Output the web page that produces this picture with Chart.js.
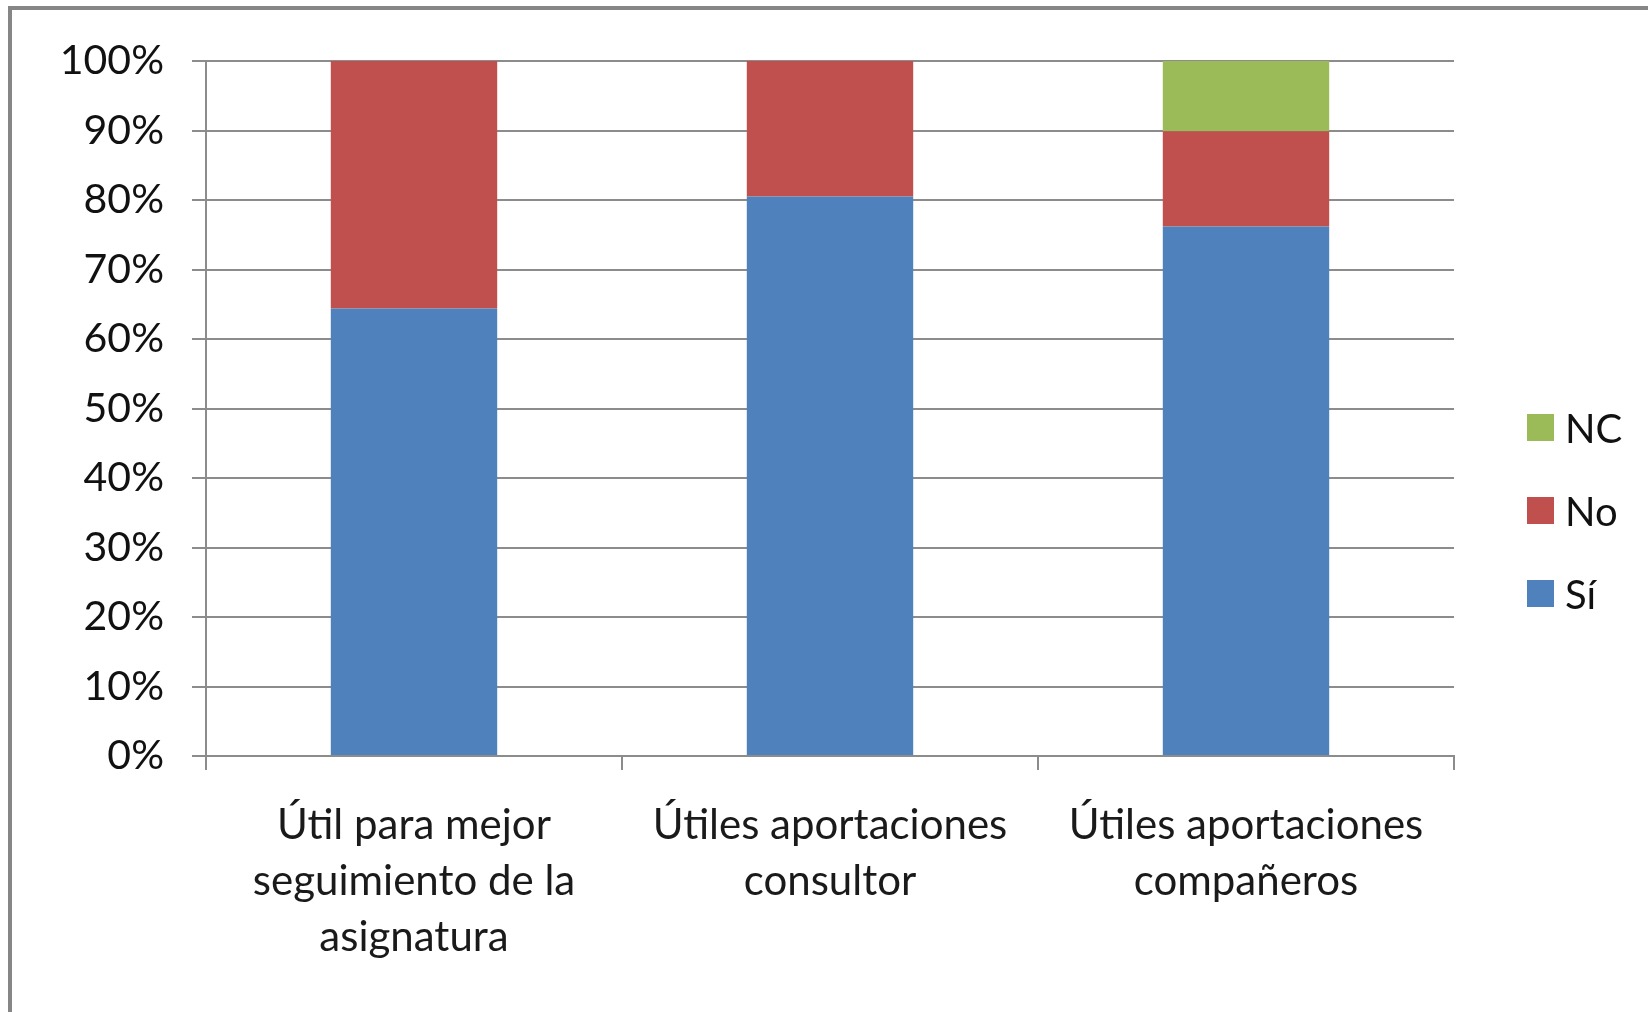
<!DOCTYPE html>
<html>
<head>
<meta charset="utf-8">
<script src="https://cdn.jsdelivr.net/npm/chart.js@4/dist/chart.umd.min.js"></script>
<style>
  body { margin: 0; background: #fff; overflow: hidden; }
  #wrap { position: absolute; left: 0; top: 0; width: 1648px; height: 1012px; }
  #frame { position: absolute; left: 8px; top: 6px; width: 1700px; height: 1100px;
           border-left: 4px solid #868686; border-top: 4px solid #868686; }
  #legend { position: absolute; left: 1527px; top: 386px; font-family: Lato, sans-serif;
            font-size: 40px; color: #111; }
  .item { display: flex; align-items: center; height: 83px; }
  .box { width: 27px; height: 27px; margin-right: 11px; }
</style>
</head>
<body>
<div id="wrap">
  <div id="frame"></div>
  <canvas id="chart" width="1648" height="1012"></canvas>
  <div id="legend"></div>
</div>
<script>
const categories = [
  ['Útil para mejor', 'seguimiento de la', 'asignatura'],
  ['Útiles aportaciones', 'consultor'],
  ['Útiles aportaciones', 'compañeros']
];
const siValues = [64.4, 80.5, 76.2];
const noValues = [35.6, 19.5, 13.7];
const ncValues = [0, 0, 10.1];
const yTicks = [0, 10, 20, 30, 40, 50, 60, 70, 80, 90, 100];

const gridColor = '#8c8c8c';

const datasets = [
  { label: 'Sí', data: siValues, backgroundColor: '#4F81BD' },
  { label: 'No', data: noValues, backgroundColor: '#C0504D' },
  { label: 'NC', data: ncValues, backgroundColor: '#9BBB59' }
];

const ctx = document.getElementById('chart').getContext('2d');
const chart = new Chart(ctx, {
  type: 'bar',
  data: {
    labels: categories,
    datasets: datasets.map(d => ({ ...d, barPercentage: 0.4, categoryPercentage: 1, borderWidth: 0 }))
  },
  options: {
    responsive: false,
    animation: false,
    layout: { padding: { top: 61, right: 194, bottom: 0, left: 0 } },
    plugins: { legend: { display: false }, tooltip: { enabled: false } },
    scales: {
      x: {
        stacked: true,
        grid: { offset: true, drawOnChartArea: false, drawTicks: true, tickLength: 14, color: gridColor, lineWidth: 2 },
        border: { color: gridColor, width: 2 },
        ticks: { color: '#1a1a1a', font: { family: 'Lato, sans-serif', size: 42, lineHeight: 1.34 }, padding: 27, maxRotation: 0 },
        afterFit: s => { s.height = 256; }
      },
      y: {
        stacked: true,
        min: 0,
        max: 100,
        afterBuildTicks: s => { s.ticks = yTicks.map(v => ({ value: v })); },
        grid: { color: gridColor, lineWidth: 2, tickLength: 14 },
        border: { color: gridColor, width: 2 },
        ticks: { color: '#111', font: { family: 'Lato, sans-serif', size: 41 }, padding: 28, callback: v => v + '%' },
        afterFit: s => { s.width = 206; }
      }
    }
  }
});

// legend, listed top to bottom in reverse stacking order
const legend = document.getElementById('legend');
datasets.slice().reverse().forEach(d => {
  const row = document.createElement('div');
  row.className = 'item';
  row.innerHTML = '<div class="box" style="background:' + d.backgroundColor + '"></div><span>' + d.label + '</span>';
  legend.appendChild(row);
});
</script>
</body>
</html>
